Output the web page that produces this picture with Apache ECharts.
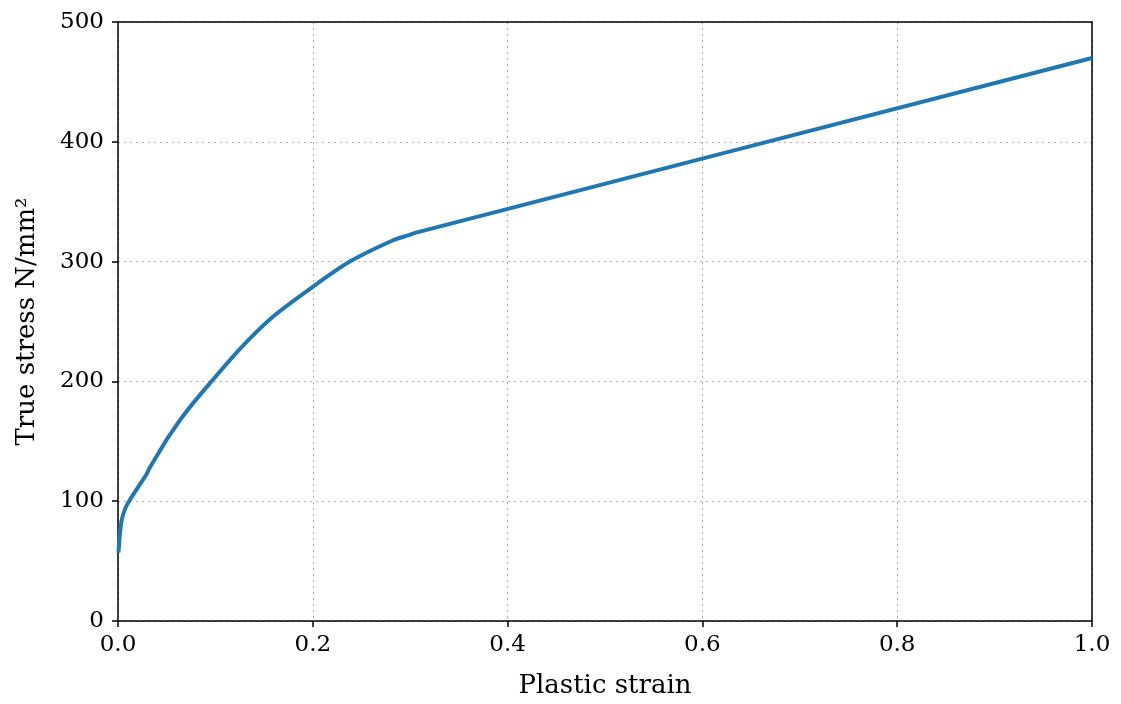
<!DOCTYPE html>
<html>
<head>
<meta charset="utf-8">
<script src="https://cdn.jsdelivr.net/npm/echarts@6/dist/echarts.min.js"></script>
<style>
  html, body { margin: 0; padding: 0; background: #fff; }
  #chart { width: 1121px; height: 704px; }
</style>
</head>
<body>
<div id="chart"></div>
<script>
// plastic strain vs true stress
const strain = [0.0005, 0.002, 0.004, 0.008, 0.0137, 0.02, 0.0257, 0.029, 0.032, 0.043, 0.0513,
  0.0685, 0.0907, 0.125, 0.159, 0.2, 0.238, 0.283, 0.300, 0.305, 1.0];
const stress = [57, 73, 85, 95, 103, 111, 118, 122, 127, 142, 153,
  173, 195, 227, 254, 279, 300, 318, 322.5, 324, 470];
const xTicks = [0, 0.2, 0.4, 0.6, 0.8, 1.0];
const yTicks = [0, 100, 200, 300, 400, 500];

const font = 'DejaVu Serif, Liberation Serif, serif';
const points = strain.map((s, i) => [s, stress[i]]);

const black = { color: '#000', width: 1.5 };
const grey = { show: true, lineStyle: { color: '#b0b0b0', type: [2, 4], width: 1.2 } };
// plain frame edge for the top and right sides
const edge = {
  show: true, axisLine: { show: true, onZero: false, lineStyle: black },
  axisTick: { show: false }, axisLabel: { show: false }, splitLine: { show: false },
};

const chart = echarts.init(document.getElementById('chart'));
chart.setOption({
  animation: false,
  grid: { left: 118, right: 29, top: 22, bottom: 83 },
  xAxis: [{
    type: 'value',
    min: xTicks[0], max: xTicks[xTicks.length - 1], interval: 0.2,
    name: 'Plastic strain',
    nameLocation: 'middle', nameGap: 52,
    nameTextStyle: { fontFamily: font, fontSize: 26, color: '#000' },
    axisLine: { show: true, onZero: false, lineStyle: black },
    axisTick: { show: true, length: 6, inside: false, lineStyle: black },
    axisLabel: {
      fontFamily: font, fontSize: 23, color: '#000', margin: 13,
      formatter: (v) => v.toFixed(1),
    },
    splitLine: grey,
  }, Object.assign({ type: 'value', position: 'top', min: 0, max: 1 }, edge)],
  yAxis: [{
    type: 'value',
    min: yTicks[0], max: yTicks[yTicks.length - 1], interval: 100,
    name: 'True stress N/mm²',
    nameLocation: 'middle', nameGap: 78, nameRotate: 90,
    nameTextStyle: { fontFamily: font, fontSize: 26, color: '#000' },
    axisLine: { show: true, onZero: false, lineStyle: black },
    axisTick: { show: true, length: 6, inside: false, lineStyle: black },
    axisLabel: { fontFamily: font, fontSize: 23, color: '#000', margin: 14 },
    splitLine: grey,
  }, Object.assign({ type: 'value', position: 'right', min: 0, max: 500 }, edge)],
  series: [{
    type: 'line',
    data: points,
    symbol: 'none',
    smooth: 0.25,
    lineStyle: { color: '#1f77b4', width: 4 },
  }],
});
</script>
</body>
</html>
